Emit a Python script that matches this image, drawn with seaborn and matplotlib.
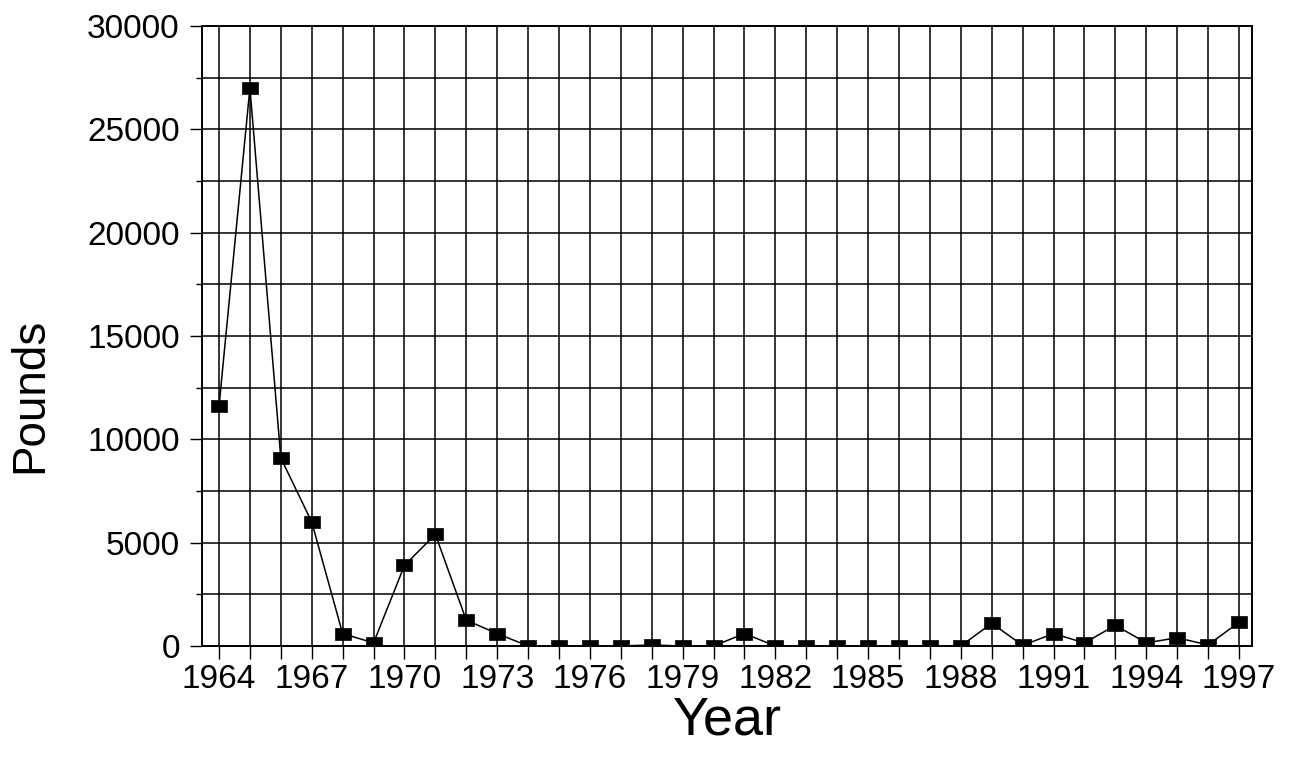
import matplotlib
matplotlib.use("Agg")
import matplotlib.pyplot as plt
import pandas as pd
import seaborn as sns
from matplotlib.path import Path
from matplotlib.ticker import MultipleLocator

# Annual landings in pounds
years = list(range(1964, 1998))
pounds = [11600, 27000, 9100, 6000, 600, 150, 3900, 5400, 1250, 600,
          0, 0, 0, 0, 50, 0, 0, 600, 0, 0,
          0, 0, 0, 0, 0, 1100, 30, 600, 150, 1000,
          150, 400, 50, 1150]

x_tick_years = list(range(1964, 1998, 3))
y_ticks = [0, 5000, 10000, 15000, 20000, 25000, 30000]

sns.set_theme(style="white")
plt.rcParams['font.family'] = ['Liberation Sans', 'DejaVu Sans']

W, H = 1301, 761
fig = plt.figure(figsize=(W / 100, H / 100), dpi=100)
ax = fig.add_axes([202 / W, 1 - 646 / H, (1252 - 202) / W, (646 - 26) / H])

# Slightly wide filled square marker
box = Path([(-1, -0.72), (1, -0.72), (1, 0.72), (-1, 0.72), (-1, -0.72)],
           closed=True)

df = pd.DataFrame({"Year": years, "Pounds": pounds})
sns.lineplot(data=df, x="Year", y="Pounds", ax=ax, color="black",
             linewidth=1.1, marker=box, markersize=12,
             markerfacecolor="black", markeredgecolor="black",
             markeredgewidth=0.5, zorder=3)

ax.set_xlim(1963.45, 1997.42)
ax.set_ylim(0, 30000)

ax.set_xticks(x_tick_years, labels=[str(y) for y in x_tick_years])
ax.xaxis.set_minor_locator(MultipleLocator(1))
ax.set_yticks(y_ticks, labels=[str(v) for v in y_ticks])
ax.yaxis.set_minor_locator(MultipleLocator(2500))

ax.grid(which="both", color="black", linewidth=1.1)
ax.set_axisbelow(True)

for s in ax.spines.values():
    s.set_color("black")
    s.set_linewidth(1.4)

ax.tick_params(axis="x", which="both", direction="out", length=9, width=1,
               color="black", bottom=True, labelsize=24, pad=4,
               labelcolor="black")
ax.tick_params(axis="y", which="major", direction="out", length=9, width=1,
               color="black", left=True, labelsize=24, pad=7,
               labelcolor="black")
ax.tick_params(axis="y", which="minor", direction="out", length=4.5, width=1,
               color="black", left=True)

ax.set_xlabel("Year", fontsize=39, labelpad=0, color="black")
ax.set_ylabel("Pounds", fontsize=33, color="black")
ax.yaxis.set_label_coords(-0.143, 0.405)

fig.savefig("out.png", dpi=100, facecolor="white")
